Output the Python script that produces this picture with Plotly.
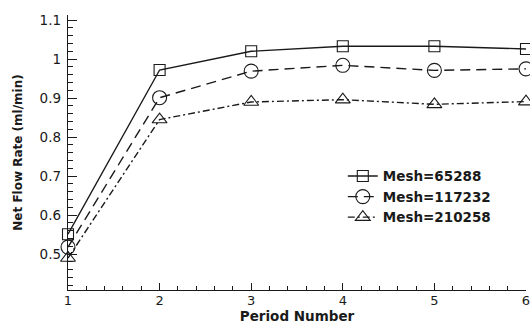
import plotly.graph_objects as go

# Net flow rate per period for three mesh densities
periods = [1, 2, 3, 4, 5, 6]
mesh_names = ["Mesh=65288", "Mesh=117232", "Mesh=210258"]
flow_65288 = [0.551, 0.972, 1.020, 1.033, 1.033, 1.026]
flow_117232 = [0.518, 0.901, 0.969, 0.984, 0.971, 0.975]
flow_210258 = [0.490, 0.845, 0.890, 0.896, 0.884, 0.891]

x_ticks = [1, 2, 3, 4, 5, 6]
y_ticks = [0.5, 0.6, 0.7, 0.8, 0.9, 1.0, 1.1]
y_tick_text = ["0.5", "0.6", "0.7", "0.8", "0.9", "1", "1.1"]

ink = "#1a1a1a"
styles = [
    dict(dash="solid", symbol="square-open", size=11),
    dict(dash="10px,6px", symbol="circle-open", size=14),
    dict(dash="7px,3px,2px,3px", symbol="triangle-up-open", size=13),
]

fig = go.Figure()
for name, vals, st in zip(mesh_names, [flow_65288, flow_117232, flow_210258], styles):
    fig.add_trace(go.Scatter(
        x=periods, y=vals, name=name, mode="lines+markers",
        line=dict(color=ink, width=1.4, dash=st["dash"]),
        marker=dict(symbol=st["symbol"], size=st["size"], color=ink,
                    line=dict(color=ink, width=1.1)),
        cliponaxis=False,
    ))

axis_font = dict(family="DejaVu Sans", size=13, color=ink)
title_font = dict(family="DejaVu Sans", size=13.5, color=ink, weight="bold")

fig.update_xaxes(
    range=[1, 6], tickvals=x_ticks, ticktext=[str(v) for v in x_ticks],
    ticks="inside", ticklen=7, tickwidth=1.2, tickcolor=ink,
    minor=dict(dtick=0.2, ticks="inside", ticklen=4, tickwidth=1, tickcolor=ink),
    showline=True, linecolor=ink, linewidth=1.4, showgrid=False, zeroline=False,
    tickfont=axis_font, ticklabelstandoff=-2, ticklabeloverflow="allow",
    title=dict(text="Period Number", font=title_font, standoff=0),
)
fig.update_yaxes(
    range=[0.408, 1.113], tickvals=y_ticks, ticktext=y_tick_text,
    ticks="inside", ticklen=9, tickwidth=1.2, tickcolor=ink,
    minor=dict(dtick=0.02, ticks="inside", ticklen=5, tickwidth=1, tickcolor=ink),
    showline=True, linecolor=ink, linewidth=1.4, showgrid=False, zeroline=False,
    tickfont=dict(family="DejaVu Sans", size=13.5, color=ink), ticklabelstandoff=3,
    title=dict(text="Net Flow Rate (ml/min)", font=dict(family="DejaVu Sans", size=12,
               color=ink, weight="bold"), standoff=14),
)

fig.update_layout(
    width=530, height=324,
    margin=dict(l=68, r=0, t=15, b=34),
    paper_bgcolor="white", plot_bgcolor="white",
    showlegend=True,
    legend=dict(x=0.6, y=0.47, xanchor="left", yanchor="top",
                bgcolor="rgba(0,0,0,0)",
                font=dict(family="DejaVu Sans", size=13.5, color=ink, weight="bold"),
                itemwidth=30, tracegroupgap=0),
)

fig.write_html("out.html")
